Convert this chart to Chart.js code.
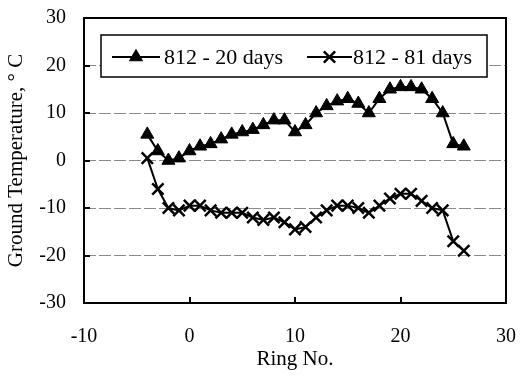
<!DOCTYPE html>
<html>
<head>
<meta charset="utf-8">
<script src="https://cdn.jsdelivr.net/npm/chart.js@4.4.1/dist/chart.umd.min.js"></script>
<style>
  html, body { margin: 0; padding: 0; background: #fff; }
</style>
</head>
<body>
<canvas id="myChart" width="521" height="377"></canvas>
<script>
/* globals Chart:false */

// Ring numbers and measured ground temperatures (deg C)
const rings = [-4, -3, -2, -1, 0, 1, 2, 3, 4, 5, 6, 7, 8, 9, 10, 11, 12, 13, 14, 15, 16, 17, 18, 19, 20, 21, 22, 23, 24, 25, 26]
const temp20Days = [5.5, 2, 0, 0.5, 2, 3, 3.5, 4.5, 5.5, 6, 6.5, 7.5, 8.5, 8.5, 6, 7.5, 10, 11.5, 12.5, 13, 12, 10, 13, 15, 15.5, 15.5, 15, 13, 10, 3.5, 3]
const temp81Days = [0.5, -6, -10, -10.5, -9.5, -9.5, -10.5, -11, -11, -11, -12, -12.5, -12, -13, -14.5, -14, -12, -10.5, -9.5, -9.5, -10, -11, -9.5, -8, -7, -7, -8.5, -10, -10.5, -17, -19]
const seriesNames = ['812 - 20 days', '812 - 81 days']
const xTicks = [-10, 0, 10, 20, 30]
const yTicks = [-30, -20, -10, 0, 10, 20, 30]

const serif = "'Liberation Serif', 'Times New Roman', serif"

const toPoints = (ys) => rings.map((r, i) => ({ x: r, y: ys[i] }))

// frame, inward tick marks and boxed legend
const framePlugin = {
  id: 'frame',
  afterDraw(chart) {
    const { ctx, chartArea: a, scales } = chart
    ctx.save()
    ctx.strokeStyle = '#000'
    ctx.lineWidth = 2
    ctx.strokeRect(a.left, a.top, a.right - a.left, a.bottom - a.top)

    ctx.beginPath()
    yTicks.slice(1, -1).forEach((v) => {
      const y = Math.round(scales.y.getPixelForValue(v))
      ctx.moveTo(a.left, y)
      ctx.lineTo(a.left + 6, y)
    })
    xTicks.slice(1, -1).forEach((v) => {
      const x = Math.round(scales.x.getPixelForValue(v))
      ctx.moveTo(x, a.bottom)
      ctx.lineTo(x, a.bottom - 6)
    })
    ctx.stroke()

    // legend box
    const box = { left: 101, top: 35, right: 487, bottom: 77 }
    ctx.fillStyle = '#fff'
    ctx.fillRect(box.left, box.top, box.right - box.left, box.bottom - box.top)
    ctx.lineWidth = 1.5
    ctx.strokeRect(box.left, box.top, box.right - box.left, box.bottom - box.top)

    const cy = 57
    const entries = [
      { x0: 112, x1: 160, tx: 164 },
      { x0: 307, x1: 352, tx: 353 }
    ]
    ctx.font = '22px ' + serif
    ctx.textBaseline = 'middle'
    ctx.textAlign = 'left'
    entries.forEach((e, i) => {
      const ds = chart.data.datasets[i]
      ctx.strokeStyle = '#000'
      ctx.lineWidth = 2
      ctx.beginPath()
      ctx.moveTo(e.x0, cy)
      ctx.lineTo(e.x1, cy)
      ctx.stroke()
      ctx.fillStyle = '#000'
      ctx.lineWidth = ds.pointBorderWidth
      Chart.helpers.drawPoint(ctx, {
        pointStyle: ds.pointStyle,
        radius: ds.pointRadius,
        borderWidth: ds.pointBorderWidth,
        rotation: 0
      }, (e.x0 + e.x1) / 2, cy)
      ctx.fillStyle = '#000'
      ctx.fillText(seriesNames[i], e.tx, cy + 1)
    })
    ctx.restore()
  }
}

const ctx = document.getElementById('myChart')
// eslint-disable-next-line no-unused-vars
const myChart = new Chart(ctx, {
  type: 'scatter',
  data: {
    datasets: [{
      label: seriesNames[0],
      data: toPoints(temp20Days),
      showLine: true,
      borderColor: '#000',
      borderWidth: 2,
      backgroundColor: '#000',
      pointStyle: 'triangle',
      pointRadius: 7.5,
      pointBorderWidth: 1,
      pointBackgroundColor: '#000',
      pointBorderColor: '#000'
    }, {
      label: seriesNames[1],
      data: toPoints(temp81Days),
      showLine: true,
      borderColor: '#000',
      borderWidth: 2,
      backgroundColor: '#000',
      pointStyle: 'crossRot',
      pointRadius: 8,
      pointBorderWidth: 2.5,
      pointBorderColor: '#000'
    }]
  },
  options: {
    responsive: false,
    animation: false,
    devicePixelRatio: 1,
    layout: {
      padding: { top: 18, right: 15, left: 0, bottom: 0 }
    },
    scales: {
      x: {
        type: 'linear',
        min: -10,
        max: 30,
        afterBuildTicks: (scale) => { scale.ticks = xTicks.map((v) => ({ value: v })) },
        afterFit: (scale) => {
          scale.height = 74
          scale.paddingLeft = 0
          scale.paddingRight = 0
        },
        grid: { display: false, drawTicks: false },
        border: { display: false },
        ticks: {
          color: '#000',
          padding: 22,
          maxRotation: 0,
          font: { family: serif, size: 20 }
        },
        title: {
          display: true,
          text: 'Ring No.',
          color: '#000',
          padding: { top: 0, bottom: 5 },
          font: { family: serif, size: 21 }
        }
      },
      y: {
        min: -30,
        max: 30,
        afterBuildTicks: (scale) => { scale.ticks = yTicks.map((v) => ({ value: v })) },
        afterFit: (scale) => {
          scale.width = 84
          scale.paddingTop = 0
          scale.paddingBottom = 0
        },
        grid: {
          drawTicks: false,
          lineWidth: 1,
          color: (c) => (c.tick && Math.abs(c.tick.value) === 30 ? 'rgba(0,0,0,0)' : '#8a8a8a')
        },
        border: { display: false, dash: [12, 3] },
        ticks: {
          color: '#000',
          padding: 18,
          font: { family: serif, size: 20 }
        },
        title: {
          display: true,
          text: 'Ground Temperature, \u00b0 C',
          color: '#000',
          padding: { top: 4, bottom: 0 },
          font: { family: serif, size: 21 }
        }
      }
    },
    plugins: {
      legend: { display: false },
      tooltip: { enabled: false }
    }
  },
  plugins: [framePlugin]
})
</script>
</body>
</html>
